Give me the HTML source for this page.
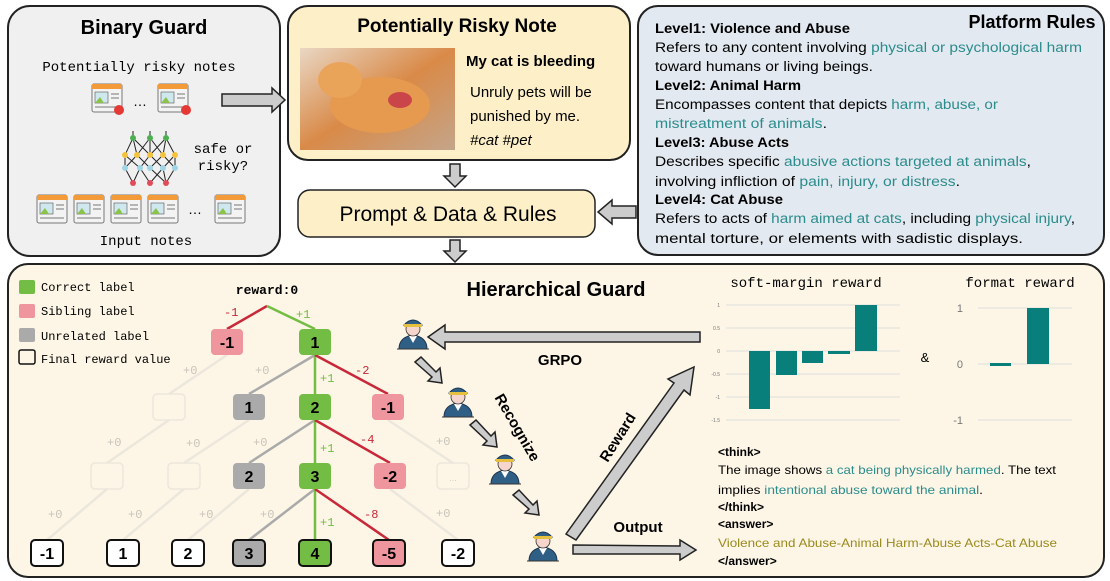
<!DOCTYPE html>
<html><head><meta charset="utf-8"><style>
body{margin:0;background:#fff}
svg{display:block}
.m{font-family:"Liberation Mono",monospace}
.s{font-family:"Liberation Sans",sans-serif}
.t{fill:#2b8c8c}
</style></head><body>
<svg width="1110" height="581" viewBox="0 0 1110 581" xmlns="http://www.w3.org/2000/svg">
<defs>
<g id="cop">
<path d="M-14 14 Q-14 2 0 0 Q14 2 14 14 Z" fill="#2f5f85" stroke="#1d3550" stroke-width="1"/>
<path d="M-4 1 L0 8 L4 1 Z" fill="#fff"/>
<circle cx="0" cy="-6" r="7" fill="#f6d6cc" stroke="#333" stroke-width="0.8"/>
<path d="M-9 -10 Q0 -20 9 -10 Z" fill="#2f5f85" stroke="#1d3550" stroke-width="1"/>
<rect x="-9" y="-11" width="18" height="3" fill="#e8c040"/>
<line x1="-16" y1="14" x2="16" y2="14" stroke="#333" stroke-width="1"/>
</g>
<g id="note">
<rect x="0" y="0" width="30" height="28" rx="2" fill="#f3f3f3" stroke="#777" stroke-width="1"/>
<rect x="0" y="0" width="30" height="5" fill="#f29b38"/>
<rect x="3" y="8" width="13" height="11" fill="#cfe8ef" stroke="#666" stroke-width="0.7"/>
<path d="M3 19 L8 13 L12 19 Z" fill="#8bc34a"/>
<line x1="19" y1="10" x2="27" y2="10" stroke="#777"/><line x1="19" y1="14" x2="27" y2="14" stroke="#777"/>
<line x1="3" y1="23" x2="27" y2="23" stroke="#777"/>
</g>
</defs>

<!-- Binary Guard -->
<rect x="8" y="6" width="272" height="250" rx="22" fill="#f0f0f0" stroke="#222" stroke-width="2"/>
<text x="144" y="34" text-anchor="middle" class="s" font-weight="bold" font-size="20">Binary Guard</text>
<text x="139" y="71" text-anchor="middle" class="m" font-size="14">Potentially risky notes</text>
<use href="#note" x="92" y="84"/><use href="#note" x="158" y="84"/>
<circle cx="119" cy="110" r="5" fill="#e53935"/><circle cx="186" cy="110" r="5" fill="#e53935"/>
<text x="140" y="106" text-anchor="middle" font-size="14" class="s">…</text>
<g stroke="#222" stroke-width="1" fill="none">
<path d="M133 138 L125 155 M133 138 L137 155 M133 138 L150 155 M150 138 L137 155 M150 138 L150 155 M150 138 L163 155 M166 138 L163 155 M166 138 L175 155 M166 138 L150 155"/>
<path d="M125 155 L140 168 M137 155 L125 168 M137 155 L150 168 M150 155 L140 168 M150 155 L163 168 M163 155 L150 168 M175 155 L163 168 M163 155 L175 168 M125 155 L125 168 M175 155 L175 168"/>
<path d="M125 168 L133 183 M140 168 L133 183 M140 168 L150 183 M150 168 L166 183 M163 168 L150 183 M175 168 L166 183 M163 168 L166 183"/>
<path d="M133 138 L133 131 M150 138 L150 131 M166 138 L166 131"/>
</g>
<g fill="#4caf50"><circle cx="133" cy="138" r="3"/><circle cx="150" cy="138" r="3"/><circle cx="166" cy="138" r="3"/></g>
<g fill="#f3c33e"><circle cx="125" cy="155" r="3"/><circle cx="137" cy="155" r="3"/><circle cx="150" cy="155" r="3"/><circle cx="163" cy="155" r="3"/><circle cx="175" cy="155" r="3"/></g>
<g fill="#9fd6e6"><circle cx="125" cy="168" r="3"/><circle cx="140" cy="168" r="3"/><circle cx="150" cy="168" r="3"/><circle cx="163" cy="168" r="3"/><circle cx="175" cy="168" r="3"/></g>
<g fill="#e24b5a"><circle cx="133" cy="183" r="3"/><circle cx="150" cy="183" r="3"/><circle cx="166" cy="183" r="3"/></g>
<text x="223" y="153" text-anchor="middle" class="m" font-size="14">safe or</text>
<text x="223" y="170" text-anchor="middle" class="m" font-size="14">risky?</text>
<use href="#note" x="37" y="195"/><use href="#note" x="74" y="195"/><use href="#note" x="111" y="195"/><use href="#note" x="148" y="195"/><use href="#note" x="215" y="195"/>
<text x="195" y="214" text-anchor="middle" font-size="14" class="s">…</text>
<text x="146" y="245" text-anchor="middle" class="m" font-size="14">Input notes</text>
<path d="M222 94 L272 94 L272 88 L285 100 L272 112 L272 106 L222 106 Z" fill="#ccc" stroke="#222" stroke-width="1.5"/>

<!-- Note -->
<rect x="288" y="6" width="342" height="154" rx="20" fill="#fdf0c8" stroke="#222" stroke-width="2"/>
<text x="457" y="32" text-anchor="middle" class="s" font-weight="bold" font-size="19">Potentially Risky Note</text>
<defs><linearGradient id="ph" x1="0" y1="0" x2="1" y2="1"><stop offset="0" stop-color="#e9d7c4"/><stop offset=".5" stop-color="#d98a48"/><stop offset="1" stop-color="#c4a58a"/></linearGradient></defs>
<rect x="300" y="48" width="155" height="102" fill="url(#ph)"/>
<ellipse cx="380" cy="105" rx="50" ry="28" fill="#e59a4f"/>
<ellipse cx="340" cy="80" rx="22" ry="18" fill="#eaa45a"/>
<ellipse cx="400" cy="100" rx="12" ry="8" fill="#c9454a"/>
<text x="466" y="66" class="s" font-weight="bold" font-size="15">My cat is bleeding</text>
<text x="470" y="97" class="s" font-size="15">Unruly pets will be</text>
<text x="470" y="121" class="s" font-size="15">punished by me.</text>
<text x="470" y="145" class="s" font-style="italic" font-size="15">#cat #pet</text>

<!-- Platform Rules -->
<rect x="638" y="6" width="466" height="249" rx="20" fill="#e3e9f0" stroke="#222" stroke-width="2"/>
<text x="1032" y="28" text-anchor="middle" class="s" font-weight="bold" font-size="18">Platform Rules</text>
<g class="s" font-size="13.5" lengthAdjust="spacingAndGlyphs">
<text x="655" y="33" font-weight="bold" textLength="195" lengthAdjust="spacingAndGlyphs">Level1: Violence and Abuse</text>
<text x="655" y="52" textLength="427" lengthAdjust="spacingAndGlyphs">Refers to any content involving <tspan class="t">physical or psychological harm</tspan></text>
<text x="655" y="71" textLength="218" lengthAdjust="spacingAndGlyphs">toward humans or living beings.</text>
<text x="655" y="90" font-weight="bold" textLength="146" lengthAdjust="spacingAndGlyphs">Level2: Animal Harm</text>
<text x="655" y="109" textLength="343" lengthAdjust="spacingAndGlyphs">Encompasses content that depicts <tspan class="t">harm, abuse, or</tspan></text>
<text x="655" y="128" textLength="172" lengthAdjust="spacingAndGlyphs"><tspan class="t">mistreatment of animals</tspan>.</text>
<text x="655" y="147" font-weight="bold" textLength="134" lengthAdjust="spacingAndGlyphs">Level3: Abuse Acts</text>
<text x="655" y="166" textLength="376" lengthAdjust="spacingAndGlyphs">Describes specific <tspan class="t">abusive actions targeted at animals</tspan>,</text>
<text x="655" y="186" textLength="305" lengthAdjust="spacingAndGlyphs">involving infliction of <tspan class="t">pain, injury, or distress</tspan>.</text>
<text x="655" y="204" font-weight="bold" textLength="128" lengthAdjust="spacingAndGlyphs">Level4: Cat Abuse</text>
<text x="655" y="223" textLength="420" lengthAdjust="spacingAndGlyphs">Refers to acts of <tspan class="t">harm aimed at cats</tspan>, including <tspan class="t">physical injury</tspan>,</text>
<text x="655" y="243" textLength="368" lengthAdjust="spacingAndGlyphs">mental torture, or elements with sadistic displays.</text>
</g>
<path d="M636 206 L612 206 L612 200 L598 212 L612 224 L612 218 L636 218 Z" fill="#ccc" stroke="#222" stroke-width="1.5"/>

<!-- Prompt -->
<rect x="298" y="190" width="297" height="47" rx="12" fill="#fdf0c8" stroke="#222" stroke-width="1.5"/>
<text x="448" y="221" text-anchor="middle" class="s" font-size="21">Prompt &amp; Data &amp; Rules</text>
<path d="M450 164 L460 164 L460 176 L466 176 L455 187 L444 176 L450 176 Z" fill="#ccc" stroke="#222" stroke-width="1.5"/>
<path d="M450 240 L460 240 L460 251 L466 251 L455 262 L444 251 L450 251 Z" fill="#ccc" stroke="#222" stroke-width="1.5"/>

<!-- Bottom -->
<rect x="8" y="264" width="1096" height="313" rx="20" fill="#fdf6e6" stroke="#222" stroke-width="2"/>
<text x="556" y="296" text-anchor="middle" class="s" font-weight="bold" font-size="20">Hierarchical Guard</text>
<g class="m" font-size="12">
<rect x="19" y="280" width="16" height="14" rx="2" fill="#74bd44"/><text x="41" y="291">Correct label</text>
<rect x="19" y="304" width="16" height="14" rx="2" fill="#ef959d"/><text x="41" y="315">Sibling label</text>
<rect x="19" y="328" width="16" height="14" rx="2" fill="#aaa"/><text x="41" y="340">Unrelated label</text>
<rect x="19" y="350" width="16" height="14" rx="2" fill="none" stroke="#111" stroke-width="1.5"/><text x="41" y="363">Final reward value</text>
</g>
<text x="267" y="294" text-anchor="middle" class="m" font-weight="bold" font-size="13">reward:0</text>

<!-- tree edges -->
<g stroke-width="2.5" fill="none">
<g stroke="#ece7dc">
<line x1="227" y1="355" x2="169" y2="394"/><line x1="169" y1="420" x2="107" y2="463"/>
<line x1="249" y1="420" x2="184" y2="463"/><line x1="107" y1="489" x2="47" y2="540"/><line x1="184" y1="489" x2="123" y2="540"/>
<line x1="249" y1="489" x2="188" y2="540"/><line x1="388" y1="420" x2="453" y2="463"/><line x1="390" y1="489" x2="458" y2="540"/>
</g>
<line x1="267" y1="306" x2="227" y2="329" stroke="#c8283a"/><line x1="267" y1="306" x2="315" y2="329" stroke="#74bd44"/>
<line x1="315" y1="355" x2="249" y2="394" stroke="#aaa"/><line x1="315" y1="355" x2="315" y2="394" stroke="#74bd44"/><line x1="315" y1="355" x2="388" y2="394" stroke="#c8283a"/>
<line x1="315" y1="420" x2="249" y2="463" stroke="#aaa"/><line x1="315" y1="420" x2="315" y2="463" stroke="#74bd44"/><line x1="315" y1="420" x2="390" y2="463" stroke="#c8283a"/>
<line x1="315" y1="489" x2="249" y2="540" stroke="#aaa"/><line x1="315" y1="489" x2="315" y2="540" stroke="#74bd44"/><line x1="315" y1="489" x2="389" y2="540" stroke="#c8283a"/>
</g>
<g class="m" font-size="12">
<text x="224" y="316" fill="#c8283a">-1</text><text x="296" y="318" fill="#74bd44">+1</text>
<text x="320" y="382" fill="#74bd44">+1</text><text x="355" y="374" fill="#c8283a">-2</text>
<text x="320" y="452" fill="#74bd44">+1</text><text x="360" y="443" fill="#c8283a">-4</text>
<text x="320" y="526" fill="#74bd44">+1</text><text x="364" y="518" fill="#c8283a">-8</text>
<g fill="#c8c4bb">
<text x="183" y="374">+0</text><text x="255" y="374">+0</text>
<text x="107" y="446">+0</text><text x="186" y="447">+0</text><text x="253" y="446">+0</text><text x="436" y="445">+0</text>
<text x="48" y="518">+0</text><text x="128" y="518">+0</text><text x="199" y="518">+0</text><text x="260" y="518">+0</text><text x="436" y="517">+0</text>
</g>
</g>
<!-- nodes -->
<g class="s" font-weight="bold" font-size="16" text-anchor="middle">
<g fill="none" stroke="#ece7dc" stroke-width="1.5">
<rect x="153" y="394" width="32" height="26" rx="4"/><rect x="91" y="463" width="32" height="26" rx="4"/><rect x="168" y="463" width="32" height="26" rx="4"/><rect x="437" y="463" width="32" height="26" rx="4"/>
</g>
<text x="453" y="481" font-size="9" fill="#ccc" font-weight="normal">...</text>
<rect x="211" y="329" width="32" height="26" rx="4" fill="#ef959d"/><text x="227" y="348">-1</text>
<rect x="299" y="329" width="32" height="26" rx="4" fill="#74bd44"/><text x="315" y="348">1</text>
<rect x="233" y="394" width="32" height="26" rx="4" fill="#aaa"/><text x="249" y="413">1</text>
<rect x="299" y="394" width="32" height="26" rx="4" fill="#74bd44"/><text x="315" y="413">2</text>
<rect x="372" y="394" width="32" height="26" rx="4" fill="#ef959d"/><text x="388" y="413">-1</text>
<rect x="233" y="463" width="32" height="26" rx="4" fill="#aaa"/><text x="249" y="482">2</text>
<rect x="299" y="463" width="32" height="26" rx="4" fill="#74bd44"/><text x="315" y="482">3</text>
<rect x="374" y="463" width="32" height="26" rx="4" fill="#ef959d"/><text x="390" y="482">-2</text>
<g stroke="#111" stroke-width="2">
<rect x="31" y="540" width="32" height="26" rx="4" fill="#fff"/><rect x="107" y="540" width="32" height="26" rx="4" fill="#fff"/><rect x="172" y="540" width="32" height="26" rx="4" fill="#fff"/>
<rect x="233" y="540" width="32" height="26" rx="4" fill="#aaa"/><rect x="299" y="540" width="32" height="26" rx="4" fill="#74bd44"/><rect x="373" y="540" width="32" height="26" rx="4" fill="#ef959d"/><rect x="442" y="540" width="32" height="26" rx="4" fill="#fff"/>
</g>
<text x="47" y="559">-1</text><text x="123" y="559">1</text><text x="188" y="559">2</text><text x="249" y="559">3</text><text x="315" y="559">4</text><text x="389" y="559">-5</text><text x="458" y="559">-2</text>
</g>

<!-- cops and arrows -->
<use href="#cop" x="413" y="335"/><use href="#cop" x="458" y="403"/><use href="#cop" x="505" y="470"/><use href="#cop" x="543" y="547"/>
<g fill="#ccc" stroke="#222" stroke-width="1.5">
<path d="M700 332 L445 332 L445 325 L428 337 L445 349 L445 342 L700 342 Z"/>
<path d="M415 362 L421 357 L436 372 L440 368 L442 383 L428 381 L432 377 Z"/>
<path d="M470 425 L476 420 L491 436 L495 432 L497 447 L483 445 L487 441 Z"/>
<path d="M513 495 L519 490 L533 505 L537 501 L539 515 L525 513 L529 509 Z"/>
<path d="M566 534 L674 383 L668 379 L694 367 L690 395 L684 390 L576 540 Z"/>
<path d="M573 545 L680 546 L680 540 L696 550 L680 560 L680 554 L573 554 Z"/>
</g>
<g class="s" font-weight="bold" font-size="15">
<text x="560" y="365" text-anchor="middle">GRPO</text>
<text x="0" y="0" text-anchor="middle" transform="translate(513,430) rotate(60)">Recognize</text>
<text x="0" y="0" text-anchor="middle" transform="translate(622,440) rotate(-58)">Reward</text>
<text x="638" y="532" text-anchor="middle">Output</text>
</g>

<!-- charts -->
<g class="m" font-size="14"><text x="806" y="287" text-anchor="middle">soft-margin reward</text><text x="1020" y="287" text-anchor="middle">format reward</text></g>
<g stroke="#ddd" stroke-width="1">
<line x1="726" y1="305" x2="900" y2="305"/><line x1="726" y1="328" x2="900" y2="328"/><line x1="726" y1="351" x2="900" y2="351"/><line x1="726" y1="374" x2="900" y2="374"/><line x1="726" y1="397" x2="900" y2="397"/><line x1="726" y1="420" x2="900" y2="420"/>
<line x1="978" y1="308" x2="1072" y2="308"/><line x1="978" y1="364" x2="1072" y2="364"/><line x1="978" y1="420" x2="1072" y2="420"/>
</g>
<g class="s" font-size="5" fill="#777" text-anchor="end">
<text x="720" y="307">1</text><text x="720" y="330">0.5</text><text x="720" y="353">0</text><text x="720" y="376">-0.5</text><text x="720" y="399">-1</text><text x="720" y="422">-1.5</text>
</g>
<g class="s" font-size="11" fill="#777" text-anchor="end"><text x="963" y="312">1</text><text x="963" y="368">0</text><text x="963" y="424">-1</text></g>
<g fill="#087f7b">
<rect x="749" y="351" width="21" height="58"/><rect x="776" y="351" width="21" height="24"/><rect x="802" y="351" width="21" height="12"/><rect x="828" y="351" width="22" height="3"/><rect x="855" y="305" width="22" height="46"/>
<rect x="990" y="363" width="21" height="3"/><rect x="1027" y="308" width="22" height="56"/>
</g>
<text x="925" y="362" class="s" font-size="13" text-anchor="middle">&amp;</text>

<!-- output text -->
<g class="s" font-size="12">
<text x="718" y="456" font-weight="bold">&lt;think&gt;</text>
<text x="718" y="474" textLength="338" lengthAdjust="spacingAndGlyphs">The image shows <tspan class="t">a cat being physically harmed</tspan>. The text</text>
<text x="718" y="494" textLength="265" lengthAdjust="spacingAndGlyphs">implies <tspan class="t">intentional abuse toward the animal</tspan>.</text>
<text x="718" y="511" font-weight="bold">&lt;/think&gt;</text>
<text x="718" y="528" font-weight="bold">&lt;answer&gt;</text>
<text x="718" y="547" fill="#9a8a1e" textLength="339" lengthAdjust="spacingAndGlyphs">Violence and Abuse-Animal Harm-Abuse Acts-Cat Abuse</text>
<text x="718" y="565" font-weight="bold">&lt;/answer&gt;</text>
</g>
</svg>
</body></html>
